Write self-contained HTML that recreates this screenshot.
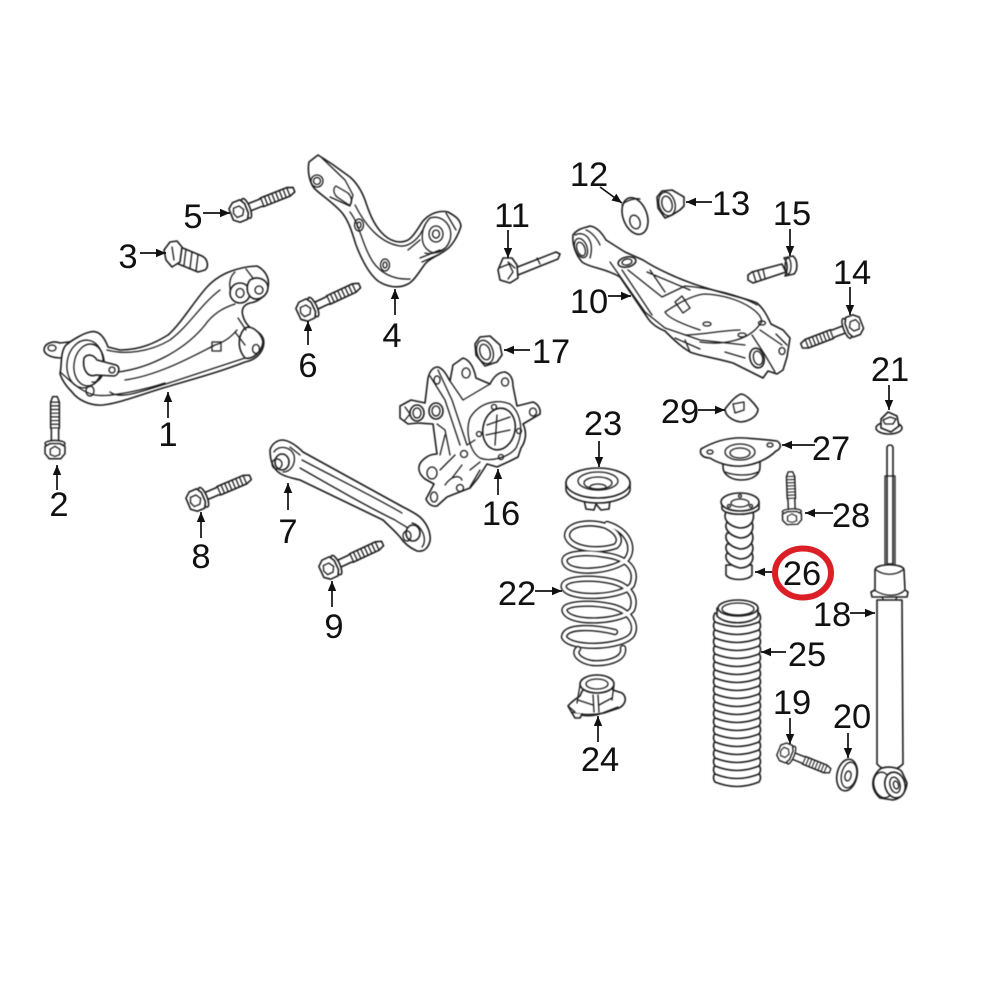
<!DOCTYPE html>
<html>
<head>
<meta charset="utf-8">
<title>Rear suspension parts diagram</title>
<style>
html,body{margin:0;padding:0;background:#fff;width:1000px;height:1000px;overflow:hidden}
svg{display:block}
.l{fill:#fff;stroke:#1c1c1c;stroke-width:1.6;stroke-linejoin:round;stroke-linecap:round}
.n{fill:none;stroke:#1c1c1c;stroke-width:1.3;stroke-linejoin:round;stroke-linecap:round}
.a line{stroke:#111;stroke-width:1.7;marker-end:url(#ah)}
text{font-family:"Liberation Sans",sans-serif;font-size:34.5px;fill:#111;text-anchor:middle;filter:blur(.3px)}
.art{filter:blur(.45px)}
</style>
</head>
<body>
<svg width="1000" height="1000" viewBox="0 0 1000 1000" xmlns="http://www.w3.org/2000/svg">
<defs>
<marker id="ah" markerUnits="userSpaceOnUse" markerWidth="12" markerHeight="10" refX="11" refY="5" orient="auto"><path d="M1,0.8L11,5L1,9.2z" fill="#111"/></marker>
<g id="bolt">
<path class="l" d="M6,-3.8H22L24,-4.6H52L58,-2.4V2.4L52,4.6H24L22,3.8H6z"/>
<path class="n" d="M24,-4.6V4.6M28,-4.6V4.6M32,-4.6V4.6M36,-4.6V4.6M40,-4.6V4.6M44,-4.6V4.6M48,-4.6V4.6M52,-4.6V4.6"/>
<ellipse class="l" cx="7" cy="0" rx="3.5" ry="10.5"/>
<path class="l" d="M-9.5,-6L-4,-10.5L4,-10.5L7,-5L7,5L4,10.5L-4,10.5L-9.5,6z"/>
<path class="n" d="M-5,-5L1,-5L4,0L1,5L-5,5L-7,0z"/>
</g>
<path id="ring" class="l" d="M715,0q-3,5 0,9q22,9 44,0q3,-4 0,-9q-22,9 -44,0z"/>
</defs>

<g class="art">
<!-- Part 1 -->
<path class="l" d="M60,343C52,340 44,344 44,350C45,356 54,358 62,358L76,355L85,340z"/>
<ellipse class="n" cx="52" cy="348" rx="4" ry="3"/>
<path class="l" d="M66,345C72,340 84,333 90,332C98,330 104,336 108,347L120,350C140,350 155,343 168,335C180,325 195,300 207,287C218,275 235,267 257,266C265,270 270,278 268,287C266,296 258,302 250,303C243,305 241,310 243,316C245,324 251,329 256,331C263,335 266,341 262,350C258,358 250,361 245,362C220,372 190,380 163,388C140,395 120,403 103,405C90,406 78,400 72,392C66,386 62,380 60,374C62,365 60,352 66,345z"/>
<ellipse class="n" cx="85" cy="364" rx="18" ry="24" transform="rotate(8 85 364)"/>
<ellipse class="n" cx="89" cy="365" rx="15" ry="21" transform="rotate(8 89 365)"/>
<path class="n" d="M92,344C100,345 105,355 104,368C103,378 98,383 92,382"/>
<path class="l" d="M84,358C88,353 94,355 97,360L116,365C121,367 119,375 114,376L96,375C88,378 82,370 84,358z"/>
<ellipse class="n" cx="112" cy="370" rx="3" ry="3"/>
<ellipse class="n" cx="90" cy="391" rx="4" ry="5"/>
<path class="n" d="M107,350C125,355 150,352 170,340C190,325 200,305 220,290M118,372C150,368 185,350 205,325C212,315 222,308 235,304M125,380C160,375 195,355 215,345C225,342 232,336 237,330M110,392C120,400 140,392 175,381L245,358M60,372C70,380 80,392 95,395C110,398 150,388 165,383"/>
<path class="n" d="M235,272C228,278 228,290 235,300M246,269L256,282M252,285L255,295"/>
<ellipse class="l" cx="240" cy="293" rx="10" ry="10"/>
<ellipse class="n" cx="240" cy="293" rx="4" ry="4.5"/>
<path class="l" d="M250,280C258,275 268,280 268,288C267,297 258,301 252,298C246,294 246,285 250,280z"/>
<ellipse class="n" cx="259" cy="290" rx="4" ry="4"/>
<path class="l" d="M244,329C250,323 262,333 263,342C262,352 252,360 245,358C238,350 237,338 244,329z"/>
<ellipse class="n" cx="256" cy="349" rx="3.5" ry="4.5"/>
<path class="n" d="M238,318L246,330M235,332L245,345"/>
<rect class="n" x="212" y="342" width="9" height="9"/>

<!-- Part 4 -->
<path class="l" d="M309,162L318,155L332,164L350,177C358,184 362,192 365,200C369,212 373,223 381,232C390,242 400,244 408,240C414,236 418,228 423,221C430,213 440,210 448,212C455,216 460,219 461,226C458,236 452,246 446,250C438,256 430,258 425,264C419,272 414,281 408,284C398,289 387,287 378,281C368,273 361,258 356,245C352,232 349,222 343,214C336,205 325,198 316,190C310,185 307,172 309,162z"/>
<circle class="n" cx="317" cy="181" r="6"/><circle class="n" cx="317" cy="181" r="3.5"/>
<path class="n" d="M336,186L348,193C352,197 353,204 349,205L337,197C333,193 333,188 336,186z"/>
<path class="n" d="M322,158L345,180L353,195L350,206L330,197"/>
<ellipse class="n" cx="359" cy="225" rx="4.5" ry="6"/><ellipse class="n" cx="359" cy="225" rx="2" ry="3"/>
<ellipse class="n" cx="385" cy="265" rx="4.5" ry="6"/><ellipse class="n" cx="385" cy="265" rx="2" ry="3"/>
<path class="n" d="M350,212C360,225 362,245 373,262C380,272 392,280 410,279M355,205C365,225 380,243 400,246C410,247 420,238 425,225"/>
<ellipse class="n" cx="436" cy="234" rx="7" ry="8"/><ellipse class="n" cx="436" cy="234" rx="3.5" ry="4"/>
<path class="n" d="M430,218C442,214 454,226 450,240C446,252 434,256 428,250C420,244 420,228 430,218zM420,240L408,250M425,253C430,255 440,252 445,248M420,258L440,250M422,262L440,254M446,213L456,230"/>

<!-- Part 10 -->
<path class="l" d="M573,235C578,228 585,228 590,226C597,227 602,233 606,240L625,252L643,260C655,268 680,280 703,287C725,294 745,298 757,303C765,310 768,318 771,324L783,330L790,338L787,357L783,370L777,374L768,371L763,378L733,363C715,358 700,356 690,352C680,346 672,338 665,331C655,327 650,322 647,317L620,277C605,268 590,268 582,262C576,255 572,245 573,235z"/>
<ellipse class="n" cx="581" cy="248" rx="6" ry="10" transform="rotate(-20 581 248)"/>
<ellipse class="n" cx="581" cy="249" rx="4" ry="7" transform="rotate(-20 581 249)"/>
<path class="n" d="M575,235C585,230 595,240 590,258M586,230C592,232 598,240 600,245"/>
<ellipse class="l" cx="627" cy="262" rx="9" ry="5" transform="rotate(-12 627 262)"/>
<ellipse class="n" cx="627" cy="262" rx="5" ry="3" transform="rotate(-12 627 262)"/>
<path class="n" d="M610,262L645,312L665,328L700,340L745,345M622,270L652,315M628,270L662,297L685,286C710,288 740,295 757,305M647,272L690,290M650,270L665,292M700,342C720,345 748,342 760,324C768,318 745,296 705,294C690,295 668,310 665,312C668,318 685,325 700,330"/>
<path class="n" d="M675,302L682,296L690,308L683,313z"/>
<ellipse class="n" cx="707" cy="324" rx="4" ry="2"/>
<ellipse class="n" cx="742" cy="335" rx="4" ry="2"/>
<ellipse class="n" cx="762" cy="323" rx="3.5" ry="2"/>
<path class="n" d="M675,338L700,349M685,340L690,352M725,352L745,358M685,335C700,335 725,330 740,330"/>
<path class="n" d="M752,335L765,355L775,372M760,330L782,345M776,334L787,345"/>
<ellipse class="l" cx="757" cy="358" rx="7" ry="10" transform="rotate(-15 757 358)"/>
<ellipse class="n" cx="758" cy="358" rx="4.5" ry="7" transform="rotate(-15 758 358)"/>
<ellipse class="n" cx="782" cy="351" rx="3" ry="3.5"/>

<!-- Part 7 -->
<path class="l" d="M270,450C272,443 278,440 283,440C291,441 298,447 303,452L403,507C411,511 418,515 421,518C428,525 431,534 430,541C428,549 423,552 417,551C410,548 404,543 400,537C394,530 388,525 383,520L300,480C292,478 286,477 281,474C274,470 270,462 270,450z"/>
<path class="n" d="M274,452C278,445 290,446 294,455C296,465 290,472 283,472M302,460C340,480 380,500 402,513M300,468C335,488 370,508 395,520C402,525 405,525 410,530M412,523C422,525 428,540 422,547M290,447L300,455"/>
<ellipse class="l" cx="282" cy="462" rx="7" ry="8"/>
<ellipse class="n" cx="277" cy="464" rx="5" ry="5"/>
<ellipse class="l" cx="413" cy="533" rx="7" ry="8"/>
<ellipse class="n" cx="407" cy="536" rx="4" ry="5"/>

<!-- Part 16 -->
<path class="l" d="M400,406L411,400L425,403L428,378C430,370 434,367 438,367C444,369 447,376 450,381L453,365L463,358C470,360 474,368 476,378L490,384C494,376 499,372 505,372C511,374 513,380 513,386L517,406L533,402C538,404 541,409 540,414L523,424C527,432 526,441 521,448L518,457L510,461L497,467L487,464L478,478L470,488L457,493L447,497L437,506C432,507 428,504 426,499L434,484L425,479C419,474 417,468 421,462C426,456 432,454 437,454L433,424L418,423L408,424L400,418z"/>
<path class="n" d="M450,381L463,400L490,384M430,376L445,400L460,445M438,370L452,400L467,445L475,440M466,368a4,5 0 1,0 .1,0M437,376a3,4 0 1,0 .1,0M505,378a3.5,4 0 1,0 .1,0"/>
<ellipse class="l" cx="417" cy="413" rx="7" ry="8"/><ellipse class="n" cx="417" cy="413" rx="4" ry="5"/>
<ellipse class="l" cx="436" cy="411" rx="7" ry="8"/><ellipse class="n" cx="436" cy="411" rx="4" ry="5"/>
<path class="n" d="M405,407L410,414L405,420M470,418C478,404 495,398 510,404C520,412 525,430 516,448C508,458 490,462 480,458C470,452 465,432 470,418z"/>
<ellipse class="l" cx="499" cy="429" rx="16" ry="21" transform="rotate(12 499 429)"/>
<path class="n" d="M487,425L510,417M486,435L510,430M497,415L495,445"/>
<circle class="n" cx="494" cy="407" r="2.5"/><circle class="n" cx="519" cy="431" r="2.5"/><circle class="n" cx="501" cy="457" r="2.5"/><circle class="n" cx="479" cy="434" r="2.5"/>
<ellipse class="n" cx="533" cy="412" rx="3.5" ry="4"/>
<ellipse class="n" cx="432" cy="473" rx="5" ry="6"/>
<ellipse class="n" cx="434" cy="497" rx="3.5" ry="5"/>
<circle class="n" cx="464" cy="454" r="3.5"/><circle class="n" cx="460" cy="488" r="3.5"/>
<path class="n" d="M437,424L445,430L450,455M440,455L445,435M440,470L455,455M445,485C452,475 460,475 462,480M470,470L480,462M452,478L462,465M470,487L480,470"/>

<!-- Bolts -->
<use href="#bolt" transform="translate(240,211) rotate(-21.6)"/>
<use href="#bolt" transform="translate(307,310) rotate(-25)"/>
<use href="#bolt" transform="translate(197,500) rotate(-23)"/>
<use href="#bolt" transform="translate(330,568) rotate(-25)"/>
<use href="#bolt" transform="translate(55,450) rotate(-90) scale(.92,.95)"/>
<use href="#bolt" transform="translate(853,326) rotate(159) scale(.95,1)"/>
<use href="#bolt" transform="translate(786,753) rotate(22) scale(.82,.9)"/>
<use href="#bolt" transform="translate(792,517) rotate(-92) scale(.78,.9)"/>

<!-- Part 3 -->
<path class="l" d="M178,246L202,256C208,259 209,267 205,270L198,272L176,263z"/>
<path class="n" d="M186,249L184,265M192,252L190,268M198,255L196,271"/>
<path class="l" d="M170,242L177,241L182,247L180,262L172,267L166,260L164,250z"/>
<path class="n" d="M172,247L174,260"/>

<!-- Part 11 -->
<path class="l" d="M515,268L556,252L560,254L558,259L518,275z"/>
<path class="n" d="M537,258L540,264"/>
<path class="l" d="M503,258L512,258L517,265L518,278L510,283L500,280L498,270z"/>
<path class="n" d="M499,268L509,264L513,272L508,279M508,262L515,268"/>

<!-- Part 15 -->
<path class="l" d="M752,272L782,264L786,272L753,283L748,280L748,275z"/>
<path class="n" d="M753,272L756,282M758,271L761,280M763,269L765,278"/>
<path class="l" d="M784,258L793,256C798,260 798,270 794,274L785,276C788,270 788,263 784,258z"/>
<ellipse class="n" cx="788" cy="266" rx="3" ry="8"/>

<!-- Part 12 washer -->
<ellipse class="l" cx="635" cy="216" rx="12" ry="19" transform="rotate(-20 635 216)"/>
<path class="n" d="M622,205C626,200 636,198 640,199"/>
<ellipse class="n" cx="635" cy="222" rx="5" ry="7" transform="rotate(-20 635 222)"/>

<!-- Part 13 nut -->
<path class="l" d="M662,191L672,190L684,197L684,206L680,210L672,215L665,218L658,208L657,197z"/>
<ellipse class="n" cx="667" cy="204" rx="8" ry="12" transform="rotate(-15 667 204)"/>
<ellipse class="n" cx="667" cy="204" rx="5" ry="8" transform="rotate(-15 667 204)"/>

<!-- Part 17 nut -->
<path class="l" d="M480,337L490,336L500,345L502,355L497,362L485,366L476,355L475,344z"/>
<ellipse class="n" cx="485" cy="352" rx="8" ry="12" transform="rotate(-18 485 352)"/>
<ellipse class="n" cx="485" cy="352" rx="5" ry="8" transform="rotate(-18 485 352)"/>

<!-- Part 29 -->
<path class="l" d="M725,409C729,404 735,396 741,394C746,394 754,403 758,409C758,416 750,421 741,422C733,421 725,416 725,409z"/>
<path class="n" d="M733,404L744,402L744,410L735,413z"/>

<!-- Part 21 -->
<ellipse class="l" cx="889" cy="428" rx="13" ry="6"/>
<path class="l" d="M881,419L888,412L897,416L899,426L891,432L881,428z"/>
<path class="n" d="M883,420L890,417L896,419L893,424L885,424z"/>

<!-- Part 27 -->
<path class="l" d="M723,458V467C723,475 732,480 741,480C752,480 760,475 760,467V458z"/>
<path class="n" d="M725,472C735,476 750,476 758,472"/>
<path class="l" d="M701,449C713,442 728,437 745,438C757,439 770,440 777,441C782,444 781,449 776,451C768,459 755,465 742,466C728,467 716,462 710,458C703,458 699,454 701,449z"/>
<ellipse class="n" cx="740" cy="452" rx="15" ry="8"/>
<ellipse class="n" cx="740" cy="453" rx="10" ry="5"/>
<ellipse class="n" cx="710" cy="452" rx="3" ry="2"/>
<ellipse class="n" cx="770" cy="445" rx="3" ry="2"/>

<!-- Part 22 spring -->
<g fill="none" stroke-linecap="round">
<path d="M567,536C567,523 590,521 606,526C618,532 622,540 616,546C600,552 570,550 567,536zM607,524C628,530 636,548 626,560C612,572 570,575 565,563C560,552 590,552 605,555C628,558 638,570 632,585C622,598 570,600 564,588C560,578 590,577 610,581C630,585 637,598 632,610C622,622 572,625 565,612C560,603 590,602 610,606C630,610 638,625 632,635C622,648 570,650 564,637C565,625 595,627 615,632" stroke="#1c1c1c" stroke-width="6.4"/>
<path d="M567,536C567,523 590,521 606,526C618,532 622,540 616,546C600,552 570,550 567,536zM607,524C628,530 636,548 626,560C612,572 570,575 565,563C560,552 590,552 605,555C628,558 638,570 632,585C622,598 570,600 564,588C560,578 590,577 610,581C630,585 637,598 632,610C622,622 572,625 565,612C560,603 590,602 610,606C630,610 638,625 632,635C622,648 570,650 564,637C565,625 595,627 615,632" stroke="#fff" stroke-width="3.6"/>
<path d="M623,648C625,660 606,664 592,663C580,661 573,654 578,649" stroke="#1c1c1c" stroke-width="6.4"/>
<path d="M623,648C625,660 606,664 592,663C580,661 573,654 578,649" stroke="#fff" stroke-width="3.6"/>
</g>

<!-- Part 23 -->
<path class="l" d="M584,500L586,509L594,510L596,504L601,510L609,509L610,500z"/>
<path class="l" d="M566,482V490C568,498 582,503 598,503C614,503 629,497 630,490V482z"/>
<ellipse class="l" cx="598" cy="483" rx="32" ry="15"/>
<ellipse class="n" cx="598" cy="481" rx="20" ry="9"/>
<ellipse class="n" cx="598" cy="483" rx="14" ry="6"/>
<ellipse class="n" cx="598" cy="487" rx="8" ry="3"/>

<!-- Part 24 -->
<path class="l" d="M568,706C572,701 577,698 580,696C582,690 586,685 597,675C606,677 611,685 613,690L622,693C628,698 625,705 619,708L604,713C590,716 580,714 572,713z"/>
<path class="n" d="M572,712C580,716 590,717 600,714L618,707M568,706L575,712"/>
<ellipse class="l" cx="597" cy="684" rx="17" ry="9"/>
<ellipse class="n" cx="597" cy="684" rx="11" ry="5"/>
<path class="n" d="M580,685L577,703M614,685L612,700M593,695L594,712M598,695L599,712M578,700L593,705M599,705L612,698"/>
<path class="l" d="M572,713L575,718L580,718L582,714"/>

<!-- Part 25 bellows -->
<g>
<use href="#ring" y="773"/><use href="#ring" y="765"/><use href="#ring" y="757"/><use href="#ring" y="749"/><use href="#ring" y="741"/><use href="#ring" y="733"/><use href="#ring" y="725"/><use href="#ring" y="717"/><use href="#ring" y="709"/><use href="#ring" y="701"/><use href="#ring" y="693"/><use href="#ring" y="685"/><use href="#ring" y="677"/><use href="#ring" y="669"/><use href="#ring" y="661"/><use href="#ring" y="653"/><use href="#ring" y="645"/><use href="#ring" y="637"/><use href="#ring" y="629"/><use href="#ring" y="621"/><use href="#ring" y="613"/>
</g>
<path class="l" d="M717,608L717,616C725,625 750,625 758,616L758,608z"/>
<ellipse class="l" cx="738" cy="608" rx="20" ry="8"/>
<ellipse class="n" cx="738" cy="609" rx="16" ry="6"/>

<!-- Part 26 -->
<path class="l" d="M726,565V575C730,581 748,581 752,575V565z"/>
<path class="l" d="M727,553C724,558 727,565 740,568C750,568 755,560 752,553z"/>
<path class="l" d="M727,544C724,549 727,556 740,559C750,559 755,551 752,544z"/>
<path class="l" d="M727,533C724,538 727,546 740,549C750,549 755,541 752,533z"/>
<path class="l" d="M727,522C724,527 727,535 740,538C750,538 755,530 752,522z"/>
<path class="l" d="M726,512C723,518 727,526 740,528C751,528 755,520 753,512z"/>
<path class="l" d="M722,502V509C726,516 752,516 759,509V502z"/>
<ellipse class="l" cx="740" cy="502" rx="19" ry="9"/>
<ellipse class="n" cx="740" cy="503" rx="9" ry="4"/>
<circle class="n" cx="729" cy="506" r="1.5"/><circle class="n" cx="751" cy="506" r="1.5"/><circle class="n" cx="740" cy="496" r="1.5"/>

<!-- Part 18 shock -->
<path class="l" d="M887,564V448C887,444 893,444 893,448V564z"/>
<path class="n" d="M885,564V476H895V564"/>
<path class="l" d="M875,570C875,563 904,563 904,570L905,590L908,592L907,597H902L877,597H872L871,592L875,590z"/>
<path class="n" d="M875,569C883,576 896,576 904,569M874,590C885,597 898,597 905,590M882,597L884,601L895,601L897,597"/>
<path class="l" d="M877,600H902L903,764C895,772 884,772 877,764z"/>
<path class="l" d="M880,769C888,765 900,768 902,772L907,783C906,793 900,799 893,800L880,798C871,790 870,778 880,769z"/>
<ellipse class="n" cx="883" cy="785" rx="9" ry="13" transform="rotate(-15 883 785)"/>
<ellipse class="l" cx="895" cy="785" rx="10" ry="13" transform="rotate(-15 895 785)"/>
<ellipse class="n" cx="895" cy="785" rx="5" ry="8" transform="rotate(-15 895 785)"/>
<ellipse class="n" cx="896" cy="785" rx="2.5" ry="4" transform="rotate(-15 896 785)"/>

<!-- Part 20 -->
<ellipse class="l" cx="847" cy="775" rx="10" ry="16" transform="rotate(12 847 775)"/>
<ellipse class="n" cx="849" cy="775" rx="7.5" ry="13" transform="rotate(12 849 775)"/>
<ellipse class="n" cx="848" cy="776" rx="3" ry="5" transform="rotate(12 848 776)"/>
</g>

<!-- Arrows -->
<g class="a">
<line x1="168" y1="418" x2="168" y2="392"/>
<line x1="57" y1="490" x2="57" y2="465"/>
<line x1="140" y1="253" x2="166" y2="253"/>
<line x1="395" y1="315" x2="395" y2="289"/>
<line x1="203" y1="213" x2="230" y2="213"/>
<line x1="308" y1="345" x2="308" y2="321"/>
<line x1="288" y1="510" x2="288" y2="483"/>
<line x1="201" y1="538" x2="201" y2="512"/>
<line x1="332" y1="607" x2="332" y2="581"/>
<line x1="608" y1="296" x2="631" y2="296"/>
<line x1="508" y1="230" x2="508" y2="258"/>
<line x1="600" y1="187" x2="622" y2="203"/>
<line x1="712" y1="202" x2="686" y2="202"/>
<line x1="850" y1="287" x2="850" y2="315"/>
<line x1="790" y1="229" x2="790" y2="256"/>
<line x1="498" y1="495" x2="498" y2="469"/>
<line x1="530" y1="350" x2="504" y2="350"/>
<line x1="850" y1="613" x2="875" y2="613"/>
<line x1="790" y1="718" x2="790" y2="744"/>
<line x1="848" y1="733" x2="848" y2="758"/>
<line x1="889" y1="385" x2="889" y2="410"/>
<line x1="535" y1="591" x2="562" y2="591"/>
<line x1="599" y1="441" x2="599" y2="467"/>
<line x1="598" y1="742" x2="598" y2="716"/>
<line x1="786" y1="652" x2="761" y2="652"/>
<line x1="772" y1="572" x2="755" y2="572"/>
<line x1="815" y1="445" x2="782" y2="445"/>
<line x1="833" y1="513" x2="805" y2="513"/>
<line x1="698" y1="410" x2="725" y2="410"/>
</g>

<!-- Labels -->
<g>
<text x="168" y="446">1</text>
<text x="59" y="516">2</text>
<text x="128" y="268">3</text>
<text x="392" y="347">4</text>
<text x="193" y="228">5</text>
<text x="308" y="377">6</text>
<text x="288" y="543">7</text>
<text x="201" y="568">8</text>
<text x="334" y="638">9</text>
<text x="589" y="313">10</text>
<text x="512" y="227">11</text>
<text x="589" y="186">12</text>
<text x="731" y="215">13</text>
<text x="852" y="284">14</text>
<text x="792" y="225">15</text>
<text x="501" y="525">16</text>
<text x="551" y="363">17</text>
<text x="832" y="626">18</text>
<text x="792" y="714">19</text>
<text x="852" y="728">20</text>
<text x="890" y="381">21</text>
<text x="517" y="605">22</text>
<text x="603" y="435">23</text>
<text x="600" y="771">24</text>
<text x="807" y="666">25</text>
<text x="802" y="585">26</text>
<text x="831" y="460">27</text>
<text x="851" y="527">28</text>
<text x="680" y="423">29</text>
</g>

<!-- Red highlight -->
<ellipse cx="803" cy="573" rx="28" ry="24.5" fill="none" stroke="#dc1f26" stroke-width="6"/>
</svg>
</body>
</html>
